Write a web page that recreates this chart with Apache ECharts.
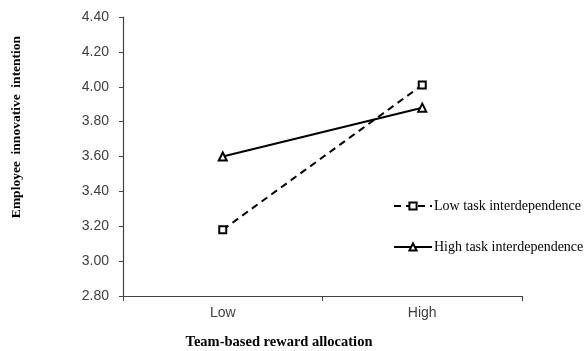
<!DOCTYPE html>
<html>
<head>
<meta charset="utf-8">
<script src="https://cdn.jsdelivr.net/npm/echarts@6/dist/echarts.min.js"></script>
<style>html,body{margin:0;padding:0;background:#fff;}#c{width:586px;height:351px;}</style>
</head>
<body>
<div id="c"></div>
<script>
var categories = ['Low', 'High'];
var lowTaskInterdependence = [3.18, 4.01];
var highTaskInterdependence = [3.60, 3.88];
var yTicks = { min: 2.8, max: 4.4, interval: 0.2 };
var seriesNames = ['Low task interdependence', 'High task interdependence'];
var xTitle = 'Team-based reward allocation';
var yTitle = 'Employee  innovative  intention';

var chart = echarts.init(document.getElementById('c'), null, { renderer: 'canvas' });
var serif = '"Liberation Serif", "Times New Roman", serif';
var sans = '"Liberation Sans", Arial, sans-serif';
chart.setOption({
  animation: false,
  backgroundColor: '#ffffff',
  grid: { left: 123, right: 64, top: 17, bottom: 55 },
  legend: {
    orient: 'vertical',
    left: 388,
    top: 194,
    itemGap: 27,
    itemWidth: 38,
    itemHeight: 9,
    data: seriesNames,
    textStyle: { fontFamily: serif, fontSize: 14, color: '#000', padding: [0, 0, 0, -3] }
  },
  xAxis: {
    type: 'category',
    data: categories,
    boundaryGap: true,
    axisLine: { lineStyle: { color: '#444', width: 1.2 } },
    axisTick: { show: true, length: 5, inside: false, lineStyle: { color: '#444' } },
    axisLabel: { fontFamily: sans, fontSize: 14, color: '#404040', margin: 10 },
    splitLine: { show: false }
  },
  yAxis: {
    type: 'value',
    min: yTicks.min,
    max: yTicks.max,
    interval: yTicks.interval,
    axisLine: { show: true, lineStyle: { color: '#444', width: 1.2 } },
    axisTick: { show: true, length: 4, lineStyle: { color: '#444' } },
    axisLabel: { fontFamily: sans, fontSize: 14, color: '#404040', margin: 14,
      formatter: function (v) { return v.toFixed(2); } },
    splitLine: { show: false }
  },
  graphic: [
    { type: 'text', x: 279, y: 342,
      style: { text: xTitle, font: 'bold 14.5px ' + serif, fill: '#000', textAlign: 'center', textVerticalAlign: 'middle' } },
    { type: 'text', x: 17, y: 127, rotation: Math.PI / 2,
      style: { text: yTitle, font: 'bold 13.5px ' + serif, fill: '#000', textAlign: 'center', textVerticalAlign: 'middle' } }
  ],
  series: [
    { name: seriesNames[0], type: 'line', data: lowTaskInterdependence,
      symbol: 'emptyRect', symbolSize: 7,
      lineStyle: { color: '#000', width: 2, type: [7, 5] },
      itemStyle: { color: '#000', borderColor: '#000', borderWidth: 2 } },
    { name: seriesNames[1], type: 'line', data: highTaskInterdependence,
      symbol: 'emptyTriangle', symbolSize: 8,
      lineStyle: { color: '#000', width: 2 },
      itemStyle: { color: '#000', borderColor: '#000', borderWidth: 2 } }
  ]
});
</script>
</body>
</html>
